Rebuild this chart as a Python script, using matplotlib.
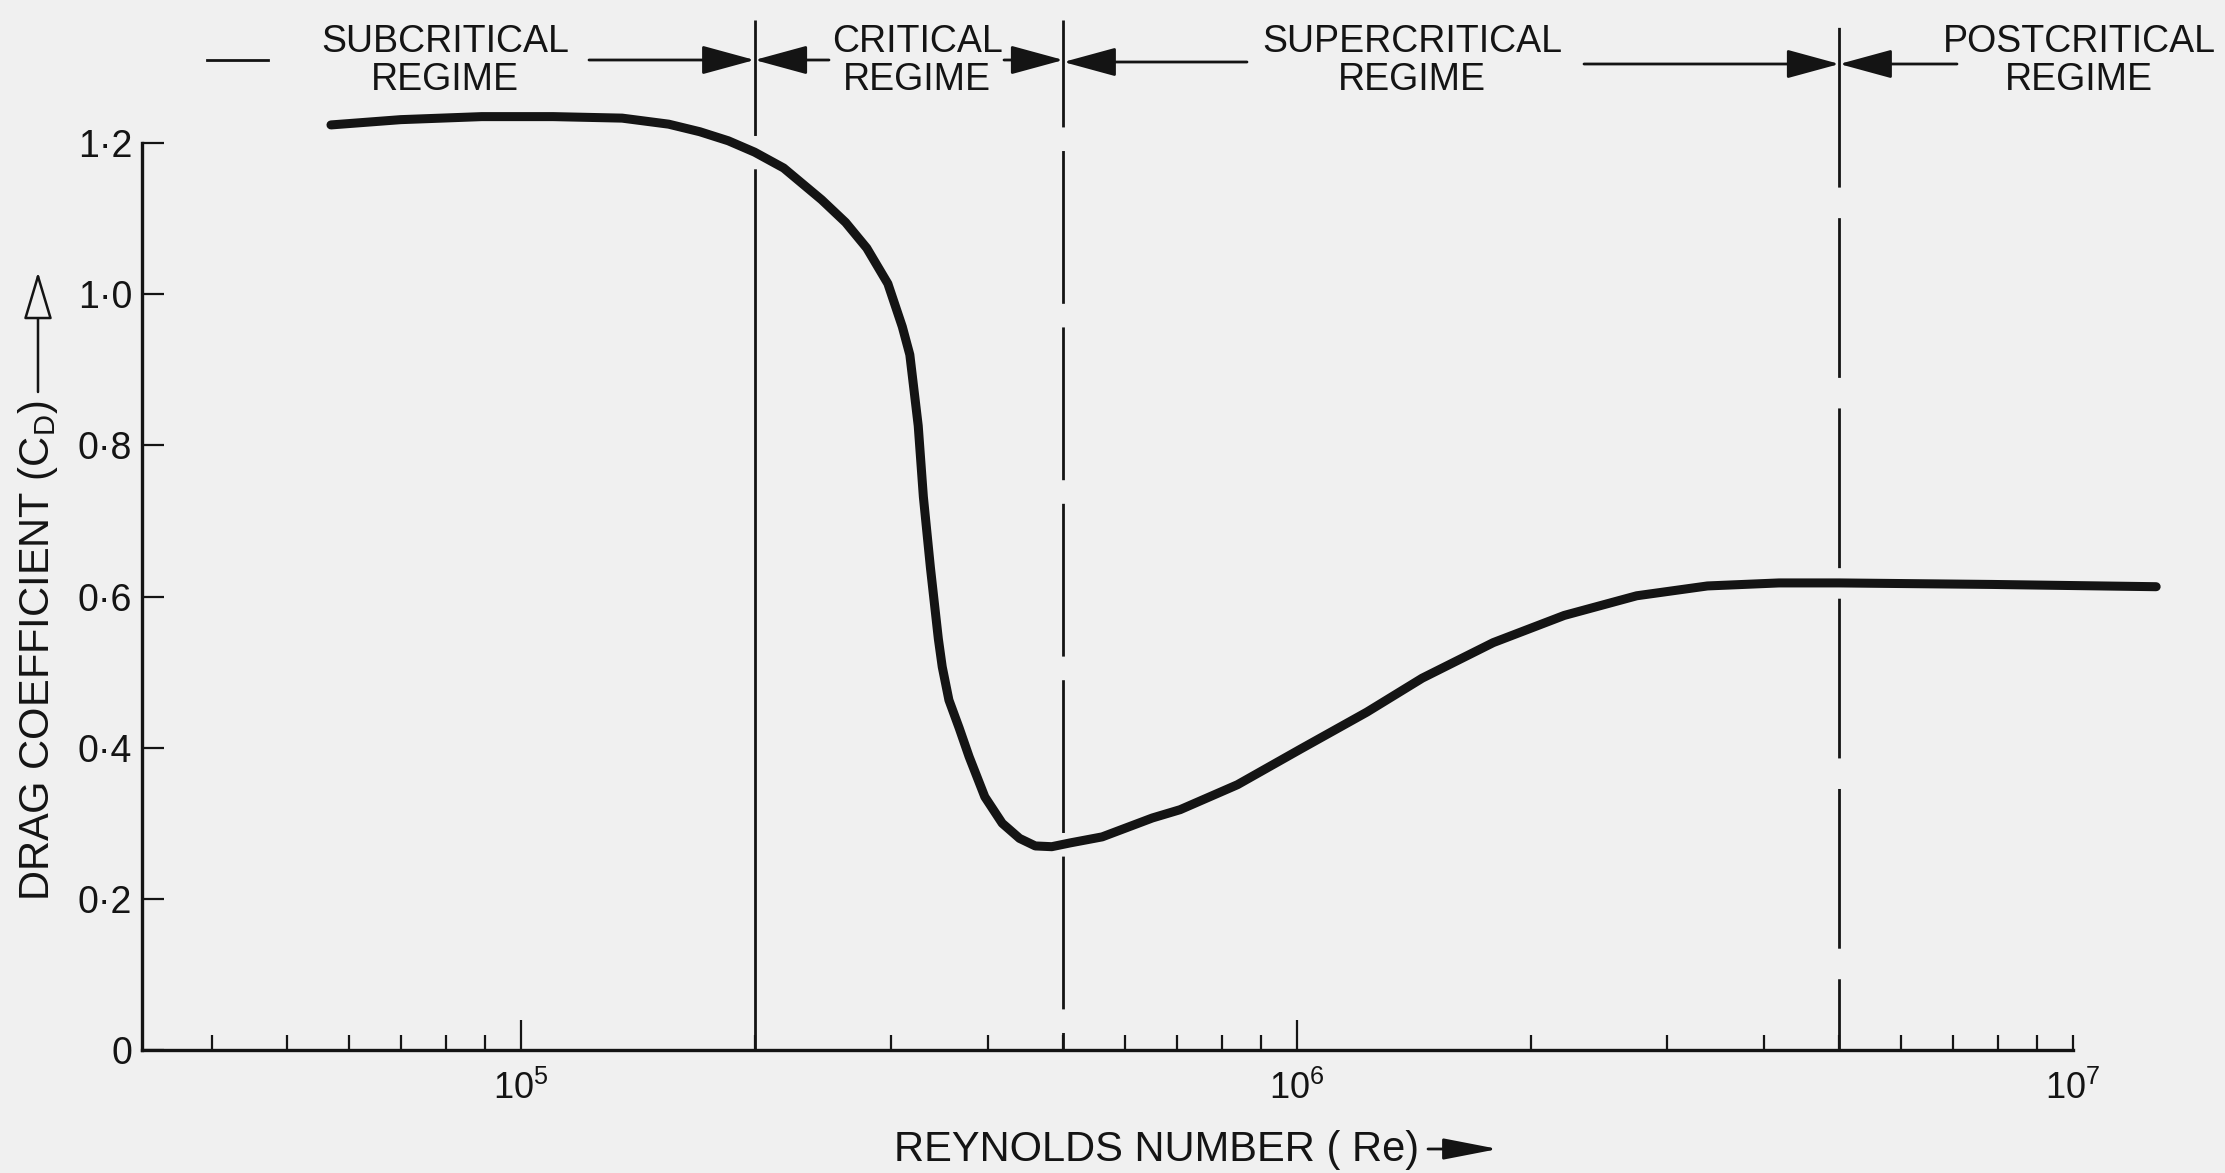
import numpy as np
import matplotlib
matplotlib.use("Agg")
import matplotlib.pyplot as plt

# drag curve of a circular cylinder
re = [5.69e4, 7.0e4, 8.9e4, 1.1e5, 1.35e5, 1.55e5, 1.70e5, 1.85e5, 2.0e5, 2.18e5,
      2.44e5, 2.62e5, 2.79e5, 2.97e5, 3.10e5, 3.17e5, 3.25e5, 3.30e5, 3.37e5, 3.45e5,
      3.49e5, 3.56e5, 3.67e5, 3.78e5, 3.96e5, 4.17e5, 4.39e5, 4.60e5, 4.83e5, 5.10e5,
      5.61e5, 6.51e5, 7.07e5, 8.38e5, 1.01e6, 1.23e6, 1.45e6, 1.79e6, 2.21e6, 2.74e6,
      3.38e6, 4.18e6, 5.0e6, 7.87e6, 1.28e7]
cd = [1.224, 1.231, 1.235, 1.235, 1.233, 1.225, 1.215, 1.203, 1.188, 1.167,
      1.125, 1.095, 1.061, 1.014, 0.957, 0.920, 0.826, 0.732, 0.638, 0.544,
      0.507, 0.463, 0.426, 0.388, 0.335, 0.300, 0.280, 0.270, 0.269, 0.274,
      0.282, 0.307, 0.318, 0.351, 0.398, 0.447, 0.492, 0.539, 0.575, 0.601,
      0.614, 0.618, 0.618, 0.616, 0.613]

boundaries = [2e5, 5e5, 5e6]
regimes = ["SUBCRITICAL\nREGIME", "CRITICAL\nREGIME", "SUPERCRITICAL\nREGIME", "POSTCRITICAL\nREGIME"]

yticks = [0, 0.2, 0.4, 0.6, 0.8, 1.0, 1.2]
ytick_labels = ["0", "0·2", "0·4", "0·6", "0·8", "1·0", "1·2"]
xticks = [1e5, 1e6, 1e7]
xtick_labels = ["$10^5$", "$10^6$", "$10^7$"]
xminor = [4e4, 5e4, 6e4, 7e4, 8e4, 9e4,
          2e5, 3e5, 4e5, 5e5, 6e5, 7e5, 8e5, 9e5,
          2e6, 3e6, 4e6, 5e6, 6e6, 7e6, 8e6, 9e6]

plt.rcParams['font.family'] = ['Liberation Sans', 'DejaVu Sans']
plt.rcParams['mathtext.fontset'] = 'custom'
plt.rcParams['mathtext.rm'] = 'Liberation Sans'
plt.rcParams['mathtext.it'] = 'Liberation Sans'
plt.rcParams['lines.scale_dashes'] = False

ink = "#141414"
paper = "#f0f0f0"
W, H = 2225, 1173

def fx(px):
    return px / W

def fy(py):
    return 1 - py / H

fig = plt.figure(figsize=(W / 100, H / 100), dpi=100, facecolor=paper)
ax = fig.add_axes([0, 123 / H, 1, 1050 / H])
ax.set_facecolor(paper)
ax.set_xscale("log")
ax.set_xlim(10 ** 4.3286, 10 ** 7.1959)
ax.set_ylim(0, 1.3893)
x0 = 10 ** 4.5116

# regime boundaries, broken where the curve crosses them
pt_per_unit = 1050 / 1.3893 * 0.72
cross = np.interp(np.log10(boundaries), np.log10(re), cd)
dash = [(2000, 24), (110, 17), (115, 22)]
for b, c, (on, off) in zip(boundaries, cross, dash):
    start = c * pt_per_unit - off / 2
    offset = (on - start) % (on + off)
    ax.plot([b, b], [0, 1.363], color=ink, lw=2.0, linestyle=(offset, (on, off)),
            dash_capstyle="butt", zorder=2)

ax.plot(re, cd, color=ink, lw=6.5, solid_capstyle="round", solid_joinstyle="round",
        clip_on=False, zorder=3)

for s in ["top", "right"]:
    ax.spines[s].set_visible(False)
ax.spines["left"].set_position(("data", x0))
ax.spines["left"].set_bounds(0, 1.2)
ax.spines["bottom"].set_bounds(x0, 1e7)
for s in ["left", "bottom"]:
    ax.spines[s].set_linewidth(2.4)
    ax.spines[s].set_color(ink)

ax.set_yticks(yticks)
ax.set_yticklabels(ytick_labels, fontsize=27, color=ink)
ax.tick_params(axis="y", direction="in", length=15.5, width=1.6, pad=7, color=ink)

ax.set_xticks(xticks)
ax.set_xticklabels(xtick_labels, fontsize=26, color=ink)
ax.set_xticks(xminor, minor=True)
ax.tick_params(axis="x", which="major", direction="in", length=21.5, width=1.6, pad=15, color=ink)
ax.tick_params(axis="x", which="minor", direction="in", length=10.8, width=1.6, color=ink)
ax.xaxis.get_major_ticks()[2].tick1line.set_markersize(10.8)

# regime headings with arrows
for lab, cx in zip(regimes, [445, 917, 1412, 2079]):
    fig.text(fx(cx), fy(61), lab, ha="center", va="center", fontsize=27,
             linespacing=1.1, color=ink)

fig.add_artist(plt.Line2D([fx(207), fx(268)], [fy(60), fy(60)], color=ink, lw=2.0,
                          transform=fig.transFigure))
head = dict(arrowstyle="-|>,head_length=1.65,head_width=0.45", mutation_scale=20,
            lw=2.0, color=ink, shrinkA=0, shrinkB=0)
for b, tail, py in [(0, 589, 60), (0, 829, 60), (1, 1004, 60), (1, 1247, 62),
                    (2, 1584, 64), (2, 1957, 64)]:
    ax.annotate("", xy=(boundaries[b], fy(py)), xycoords=("data", "figure fraction"),
                xytext=(fx(tail), fy(py)), textcoords="figure fraction", arrowprops=head)

# axis titles
fig.text(fx(1419), fy(1150), "REYNOLDS NUMBER ( Re)", ha="right", va="center",
         fontsize=30, color=ink)
ax.annotate("", xy=(fx(1498), fy(1149)), xycoords="figure fraction",
            xytext=(fx(1428), fy(1149)), textcoords="figure fraction",
            arrowprops=dict(arrowstyle="-|>,head_length=1.7,head_width=0.33",
                            mutation_scale=20, lw=2.0, color=ink, shrinkA=0, shrinkB=0))

fig.text(fx(38), fy(901), "DRAG COEFFICIENT (C$_\\mathrm{D}$)", rotation=90,
         ha="center", va="bottom", fontsize=30, color=ink)
ax.annotate("", xy=(fx(38), fy(272)), xycoords="figure fraction",
            xytext=(fx(38), fy(392)), textcoords="figure fraction",
            arrowprops=dict(arrowstyle="-|>,head_length=1.5,head_width=0.45",
                            mutation_scale=20, lw=1.8, ec=ink, fc=paper,
                            shrinkA=0, shrinkB=0))

fig.savefig("out.png", dpi=100, facecolor=paper)
